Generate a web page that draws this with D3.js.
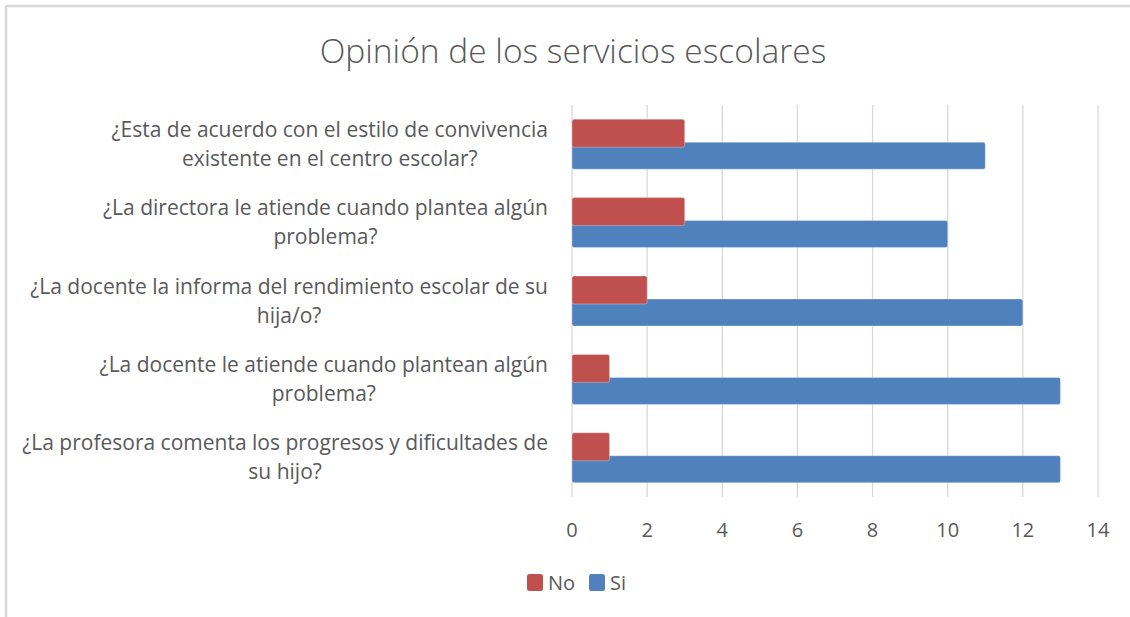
<!DOCTYPE html>
<html>
<head>
<meta charset="utf-8">
<script src="https://cdn.jsdelivr.net/npm/d3@7"></script>
<style>
  body { margin: 0; background: #fff; }
  svg text { font-family: "Open Sans", Lato, sans-serif; fill: #595959; }
</style>
</head>
<body>
<svg id="chart" width="1130" height="617"></svg>
<script>
// data
var questions = [
  ["¿Esta de acuerdo con el estilo de convivencia", "existente en el centro escolar?"],
  ["¿La directora le atiende cuando plantea algún", "problema?"],
  ["¿La docente la informa del rendimiento escolar de su", "hija/o?"],
  ["¿La docente le atiende cuando plantean algún", "problema?"],
  ["¿La profesora comenta los progresos y dificultades de", "su hijo?"]
];
var seriesNames = ["No", "Si"];
var noValues = [3, 3, 2, 1, 1];
var siValues = [11, 10, 12, 13, 13];
var xTicks = [0, 2, 4, 6, 8, 10, 12, 14];
var colors = {No: "#C0504D", Si: "#4F81BD"};

var svg = d3.select("#chart");

// frame (only top + left edges show in the screenshot)
svg.append("line").attr("x1", 6).attr("x2", 1130).attr("y1", 6).attr("y2", 6)
  .attr("stroke", "#d9d9d9").attr("stroke-width", 2.5);
svg.append("line").attr("x1", 6).attr("x2", 6).attr("y1", 6).attr("y2", 617)
  .attr("stroke", "#d9d9d9").attr("stroke-width", 2.5);

svg.append("text")
  .attr("x", 573).attr("y", 63)
  .attr("text-anchor", "middle")
  .style("font-size", "33.5px").style("font-weight", 300)
  .text("Opinión de los servicios escolares");

var x = d3.scaleLinear().domain([0, 14]).range([572, 1098]);
var y = d3.scaleBand().domain(d3.range(questions.length)).range([105, 497]);

// gridlines
svg.append("g").selectAll("line").data(xTicks).enter()
  .append("line")
  .attr("x1", d => x(d)).attr("x2", d => x(d))
  .attr("y1", 105).attr("y2", 497)
  .attr("stroke", "#d9d9d9").attr("stroke-width", 1.3);

// x tick labels
svg.append("g").selectAll("text").data(xTicks).enter()
  .append("text")
  .attr("x", d => x(d)).attr("y", 537)
  .attr("text-anchor", "middle")
  .style("font-size", "20px")
  .text(d => d);

// bars: Si drawn first, No overlaps on top
var rows = questions.map(function(q, i) { return {i: i, No: noValues[i], Si: siValues[i]}; });
var offs = {No: -25, Si: -2};
var hts = {No: 28, Si: 27};
["Si", "No"].forEach(function(s) {
  svg.append("g").selectAll("rect").data(rows).enter()
    .append("rect")
    .attr("x", x(0))
    .attr("y", d => y(d.i) + y.bandwidth() / 2 + offs[s])
    .attr("width", d => x(d[s]) - x(0))
    .attr("height", hts[s])
    .attr("rx", 2)
    .attr("fill", colors[s])
    .attr("stroke", "#fff").attr("stroke-opacity", 0.4).attr("stroke-width", 0.8);
});

// category labels: block right-aligned at 548, lines centered in the block
var labelG = svg.append("g");
questions.forEach(function(lines, i) {
  var cy = y(i) + y.bandwidth() / 2;
  var g = labelG.append("g");
  var texts = lines.map(function(l, j) {
    return g.append("text")
      .attr("y", cy - 14.5 * (lines.length - 1) + 29 * j + 7)
      .attr("text-anchor", "middle")
      .style("font-size", "21px")
      .text(l);
  });
  var w = d3.max(texts, t => t.node().getComputedTextLength());
  texts.forEach(t => t.attr("x", 548 - w / 2));
});

// legend
var leg = svg.append("g");
[["No", 527, 548], ["Si", 589, 610]].forEach(function(d) {
  leg.append("rect").attr("x", d[1]).attr("y", 574).attr("width", 16).attr("height", 17)
    .attr("rx", 2.5).attr("fill", colors[d[0]]);
  leg.append("text").attr("x", d[2]).attr("y", 590).style("font-size", "20px").text(d[0]);
});
</script>
</body>
</html>
